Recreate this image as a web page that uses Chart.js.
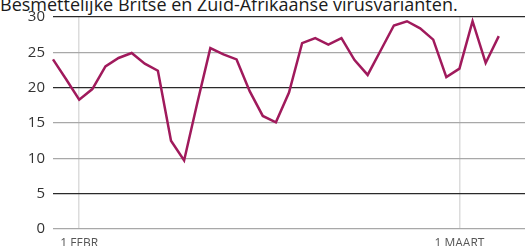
<!DOCTYPE html>
<html>
<head>
<meta charset="utf-8">
<script src="https://cdn.jsdelivr.net/npm/chart.js@4"></script>
<style>
  html, body { margin: 0; padding: 0; background: #fff; overflow: hidden; }
  #wrap { position: relative; width: 525px; height: 246px; }
  #titel {
    position: absolute; left: 0; top: -8px; white-space: nowrap;
    font-family: "Open Sans", sans-serif; font-size: 18px; color: #1a1a1a;
  }
  canvas { position: absolute; left: 0; top: 0; }
</style>
</head>
<body>
<div id="wrap">
  <div id="titel">Besmettelijke Britse en Zuid-Afrikaanse virusvarianten.</div>
  <canvas id="myChart" width="525" height="246"></canvas>
</div>
<script>
// meetmomenten; alleen 1 februari en 1 maart krijgen een label, twee lege plekken rechts
const meetpunten = [
  "", "", "1 FEBR", "", "", "", "", "", "", "", "", "", "", "", "", "", "", "",
  "", "", "", "", "", "", "", "", "", "", "", "", "", "1 MAART", "", "", "", "", "",
];
const percentage = [
  24, 21.2, 18.3, 19.8, 23.0, 24.2, 24.9, 23.4, 22.4, 12.5, 9.7, 17.8, 25.6, 24.7,
  24.0, 19.5, 16.0, 15.1, 19.3, 26.3, 27.0, 26.1, 27.0, 23.9, 21.8, 25.3, 28.8, 29.4,
  28.4, 26.8, 21.5, 22.7, 29.4, 23.5, 27.3,
];
const yTicks = [0, 5, 10, 15, 20, 25, 30];
const donkereLijnen = [30, 20, 5];

const data = {
  labels: meetpunten,
  datasets: [
    {
      label: "varianten",
      data: percentage,
      borderColor: "#a01a5c",
      borderWidth: 2.5,
      pointRadius: 0,
      tension: 0,
      fill: false,
    },
  ],
};

// config
const config = {
  type: "line",
  data,
  options: {
    responsive: false,
    animation: false,
    layout: { padding: { top: 15, right: 0, left: 0, bottom: 0 } },
    scales: {
      x: {
        offset: false,
        border: { display: false },
        grid: {
          drawTicks: false,
          color: (ctx) => (meetpunten[ctx.index] ? "#dcdcdc" : "rgba(0,0,0,0)"),
          lineWidth: 1.5,
        },
        ticks: {
          autoSkip: false,
          maxRotation: 0,
          padding: 7,
          color: "#555",
          font: { family: "Open Sans", size: 12 },
          callback: (val, i) => meetpunten[i],
        },
        afterFit: (scale) => {
          scale.height = 17;
          scale.paddingLeft = 0;
          scale.paddingRight = 0;
        },
      },
      y: {
        min: 0,
        max: 30,
        border: { display: false },
        afterBuildTicks: (scale) => { scale.ticks = yTicks.map((v) => ({ value: v })); },
        grid: {
          drawTicks: false,
          color: (ctx) => (donkereLijnen.includes(ctx.tick.value) ? "#2a2a2a" : "#a8a8a8"),
          lineWidth: 1.3,
        },
        ticks: {
          padding: 8,
          color: "#333",
          font: { family: "Open Sans", size: 15 },
        },
        afterFit: (scale) => { scale.width = 53; },
      },
    },
    plugins: {
      legend: { display: false },
      tooltip: { enabled: false },
    },
  },
};

// render init block
const myChart = new Chart(document.getElementById("myChart"), config);
</script>
</body>
</html>
